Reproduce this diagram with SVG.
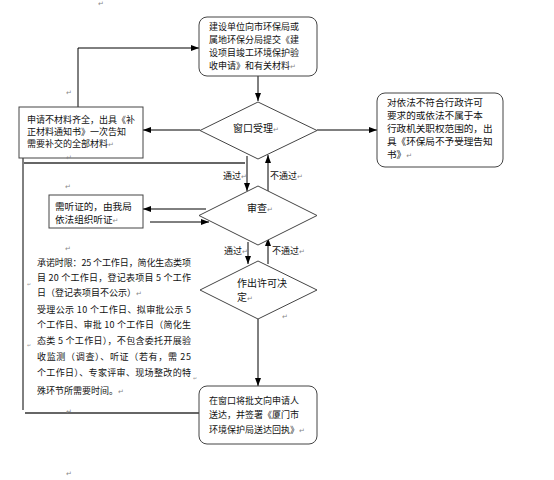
<svg xmlns="http://www.w3.org/2000/svg" width="554" height="480" viewBox="0 0 554 480">
<style>
text{font-family:"Noto Sans CJK SC","Liberation Sans",sans-serif;fill:#111;}
.t9{font-size:9px;}
.t10{font-size:10px;}
.t96{font-size:9.6px;}
.pm{font-family:"DejaVu Sans",sans-serif;font-size:7px;fill:#888;}
.sm{font-family:"DejaVu Sans",sans-serif;font-size:5px;fill:#999;}
.box{fill:#fff;stroke:#444;stroke-width:1;}
.ln{fill:none;stroke:#000;stroke-width:1;}
.fr{fill:none;stroke:#666;stroke-width:2;}
</style>
<defs>
<marker id="ah" markerUnits="userSpaceOnUse" markerWidth="8" markerHeight="6" refX="8" refY="3" orient="auto">
<path d="M0,0 L8,3 L0,6 z" fill="#000"/>
</marker>
</defs>
<rect width="554" height="480" fill="#fff"/>

<g id="frame">
<path class="fr" d="M24,163 H245"/>
<path class="ln" d="M23,158 V410"/>
<path class="fr" d="M25,413 H199"/>
</g>

<g id="connectors">
<path class="ln" d="M78,107 V48 H199" marker-end="url(#ah)"/>
<path class="ln" d="M258,76 V101" marker-end="url(#ah)"/>
<path class="ln" d="M200,130 H143" marker-end="url(#ah)"/>
<path class="ln" d="M317,130 H377" marker-end="url(#ah)"/>
<path class="ln" d="M247,156 V191" marker-end="url(#ah)"/>
<path class="ln" d="M268,191 V155" marker-end="url(#ah)"/>
<path class="ln" d="M206,209 H143" marker-end="url(#ah)"/>
<path class="ln" d="M150,222 H209" marker-end="url(#ah)"/>
<path class="ln" d="M248,242 V264" marker-end="url(#ah)"/>
<path class="ln" d="M268,264 V238" marker-end="url(#ah)"/>
<path class="ln" d="M258,319 V386" marker-end="url(#ah)"/>
<text class="t9" x="223" y="179">通过<tspan class="pm">↵</tspan></text>
<text class="t9" x="270" y="179">不通过<tspan class="pm">↵</tspan></text>
<text class="t9" x="224" y="254">通过<tspan class="pm">↵</tspan></text>
<text class="t9" x="272" y="254">不通过<tspan class="pm">↵</tspan></text>
</g>

<g id="n-submit">
<rect class="box" x="199" y="17" width="118" height="59" rx="8"/>
<text class="t9" x="209" y="30">建设单位向市环保局或</text>
<text class="t9" x="209" y="43">属地环保分局提交《建</text>
<text class="t9" x="209" y="56">设项目竣工环境保护验</text>
<text class="t9" x="209" y="68.5">收申请》和有关材料<tspan class="pm">↵</tspan></text>
</g>

<g id="n-accept">
<polygon class="box" points="258,102 317,130.5 258,159 200,130.5"/>
<text class="t10" x="233" y="131.5">窗口受理<tspan class="pm">↵</tspan></text>
</g>

<g id="n-incomplete">
<rect class="box" x="19" y="107" width="124" height="51"/>
<text class="t9" x="27" y="122.5">申请不材料齐全，出具《补</text>
<text class="t9" x="27" y="135">正材料通知书》一次告知</text>
<text class="t9" x="27" y="147">需要补交的全部材料<tspan class="pm">↵</tspan></text>
</g>

<g id="n-reject">
<rect class="box" x="377" y="93" width="126" height="74" rx="8"/>
<text class="t96" x="387" y="106">对依法不符合行政许可</text>
<text class="t96" x="387" y="119">要求的或依法不属于本</text>
<text class="t96" x="387" y="132">行政机关职权范围的，出</text>
<text class="t96" x="387" y="145">具《环保局不予受理告知</text>
<text class="t96" x="387" y="158">书》<tspan class="pm">↵</tspan></text>
</g>

<g id="n-review">
<polygon class="box" points="258,186 317,215.5 258,245 199,215.5"/>
<text class="t10" x="247" y="211.5">审查<tspan class="pm">↵</tspan></text>
</g>

<g id="n-hearing">
<rect class="box" x="49" y="195" width="94" height="33"/>
<text class="t96" x="55" y="209.5">需听证的，由我局</text>
<text class="t96" x="55" y="223">依法组织听证<tspan class="pm">↵</tspan></text>
</g>

<g id="n-decide">
<polygon class="box" points="258,261 317,290 258,319 200,290"/>
<text class="t10" x="237" y="286.5">作出许可决</text>
<text class="t10" x="237" y="300.5">定<tspan class="pm">↵</tspan></text>
</g>

<g id="n-deliver">
<rect class="box" x="199" y="386" width="118" height="58" rx="8"/>
<text class="t9" x="209" y="403.5">在窗口将批文向申请人</text>
<text class="t9" x="209" y="418">送达，并签署《厦门市</text>
<text class="t9" x="209" y="432.5">环境保护局送达回执》<tspan class="pm">↵</tspan></text>
</g>

<g id="n-deadline">
<text class="t9" x="37" y="266" textLength="154" lengthAdjust="spacing">承诺时限：25 个工作日，简化生态类项</text>
<text class="t9" x="37" y="280.5" textLength="154" lengthAdjust="spacing">目 20 个工作日，登记表项目 5 个工作</text>
<text class="t9" x="37" y="295.5">日（登记表项目不公示）<tspan class="pm">↵</tspan></text>
<text class="t9" x="37" y="312.5" textLength="154" lengthAdjust="spacing">受理公示 10 个工作日、拟审批公示 5</text>
<text class="t9" x="37" y="328" textLength="154" lengthAdjust="spacing">个工作日、审批 10 个工作日（简化生</text>
<text class="t9" x="37" y="343.5" textLength="154" lengthAdjust="spacing">态类 5 个工作日），不包含委托开展验</text>
<text class="t9" x="37" y="359.5" textLength="154" lengthAdjust="spacing">收监测（调查）、听证（若有，需 25</text>
<text class="t9" x="37" y="376" textLength="154" lengthAdjust="spacing">个工作日）、专家评审、现场整改的特</text>
<text class="t9" x="37" y="393.5">殊环节所需要时间。<tspan class="pm">↵</tspan></text>
</g>

<g id="marks">
<text class="pm" x="98" y="6">↵</text>
<text class="pm" x="66" y="95">↵</text>
<text class="pm" x="66" y="160">↵</text>
<text class="pm" x="65" y="189">↵</text>
<text class="pm" x="65" y="251">↵</text>
<text class="sm" x="27" y="286">↵</text>
<text class="sm" x="27" y="347">↵</text>
<text class="sm" x="193" y="380">↵</text>
<text class="pm" x="66" y="414">↵</text>
<text class="pm" x="66" y="476">↵</text>
<text class="pm" x="282" y="319">↵</text>
</g>
</svg>
